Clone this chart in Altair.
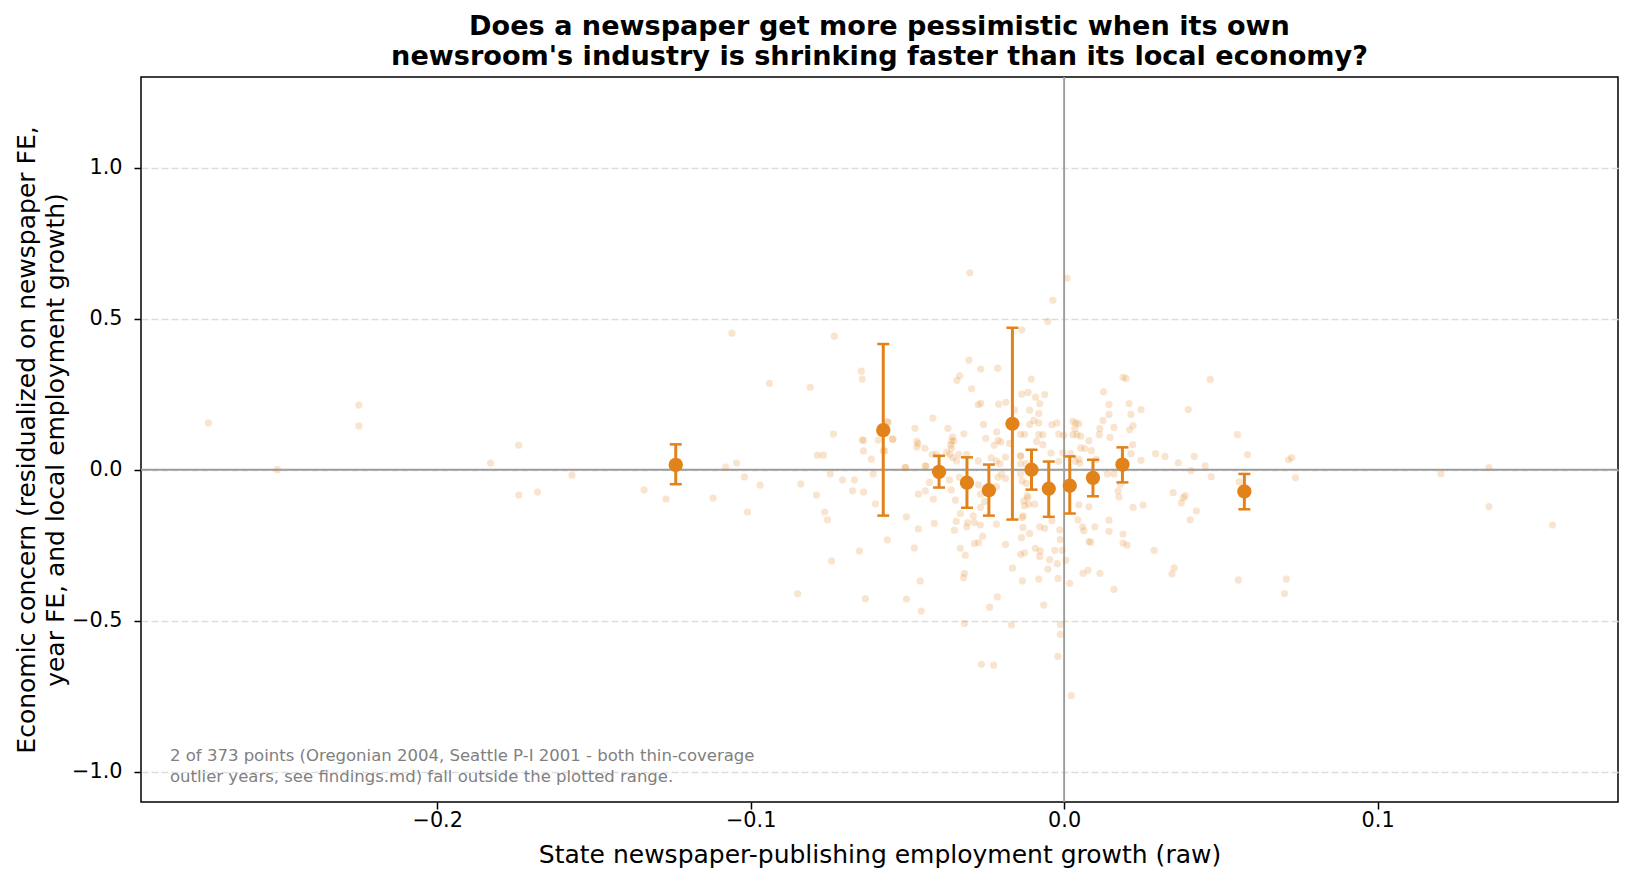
import altair as alt
import pandas as pd

# ---------------- data ----------------
sx = [
    -0.273, -0.225, -0.225, -0.251, -0.183, -0.174, -0.174, -0.168, -0.157,
    -0.134, -0.127, -0.112, -0.108, -0.1045, -0.102, -0.101, -0.106, -0.097, -0.094, -0.084,
    -0.085, -0.081, -0.079, -0.0787, -0.0768, -0.0764, -0.0755, -0.0746, -0.0742, -0.0736,
    -0.0733, -0.0707, -0.0675, -0.0669, -0.0653, -0.0647, -0.0644, -0.0644, -0.0640, -0.064,
    -0.064, -0.0634, -0.0615, -0.0609, -0.0602, -0.0593, -0.0577, -0.0564, -0.0564, -0.0548,
    -0.0301, -0.0135, -0.0304, -0.0266, -0.0212, -0.0333, -0.0342, -0.0295, -0.0105, -0.0115,
    -0.0135, -0.0266, -0.0274, -0.0209, -0.0186, -0.0158, -0.0110, -0.0419, -0.0257, -0.0110,
    -0.0476, -0.0371, -0.0320, -0.0250, -0.0215, -0.0211, -0.0202, -0.0223, -0.0174, -0.0139,
    -0.0126, -0.0356, -0.0359, -0.0352, -0.0362, -0.0359, -0.0470, -0.0466, -0.0470, -0.0444,
    -0.0421, -0.0408, -0.0375, -0.0365, -0.0356, -0.0336, -0.0311, -0.0441, -0.0506, -0.0274,
    -0.0233, -0.0216, -0.0187, -0.0205, -0.0139, -0.0139, -0.0121, -0.0343, -0.0561, -0.0546,
    -0.0572,
    -0.0507, -0.0443, -0.0430, -0.0465, -0.0443, -0.0417, -0.0366, -0.0360, -0.0347, -0.0334,
    -0.0273, -0.0267, -0.0254, -0.0267, -0.0216, -0.0187, -0.0200, -0.0211, -0.0503, -0.0465,
    -0.0414, -0.0478, -0.0459, -0.0503, -0.0456, -0.0331, -0.0344, -0.0350, -0.0308, -0.0286,
    -0.0267, -0.0311, -0.0290, -0.0331, -0.0315, -0.0286, -0.0273, -0.0260, -0.0216, -0.0187,
    -0.0318, -0.0321, -0.0238, -0.0213, -0.0165, -0.0133, -0.0139, -0.0126, -0.0136, -0.0131,
    -0.0131, -0.0126, -0.0116, -0.0318, -0.0168, -0.0264, -0.0225, -0.0139, -0.0139, -0.0121,
    -0.0110,
    0.0009, -0.0036, -0.0052, 0.0188, 0.0197, 0.0126, -0.0091, -0.0062, -0.0078, 0.0143,
    0.0207, 0.0245, -0.0081, 0.0143, 0.0213, 0.0124, 0.0220, 0.0159, 0.0114, 0.0209,
    -0.0097, -0.0081, -0.0039, -0.0023, 0.0028, 0.0037, 0.0047, 0.0034, 0.0028, 0.0041,
    0.0053, 0.0112, 0.0146, -0.0081, -0.0068, -0.0017, -0.0001, -0.0088, -0.0068, 0.0079,
    0.0053, 0.0066, 0.0087, 0.0219, 0.0213, 0.0292, -0.0042, -0.0004, 0.0021, -0.0017,
    0.0036, 0.0050, 0.0245,
    0.0047, 0.0103, 0.0138, 0.0159, 0.0172, 0.0180, 0.0175, 0.0220, 0.0252, -0.0134,
    -0.0118, -0.0129, -0.0113, -0.0094, -0.0134, -0.0078, -0.0062, -0.0092, -0.0076, -0.0078,
    -0.0046, -0.0030, -0.0014, -0.0012, -0.0006, 0.0006, -0.0022, -0.0052, -0.0019, -0.0081,
    0.0018, -0.0039, 0.0044, 0.0047, 0.0059, 0.0063, 0.0098, 0.0079, 0.0079, 0.0085,
    0.0143, 0.0143, 0.0188, 0.0188, 0.0201, 0.0287, 0.0060, 0.0076, 0.0114, 0.0159,
    -0.0065, -0.0012, -0.0012, -0.0020, 0.0023,
    0.0466, 0.0396, 0.0553, 0.0322, 0.0364, 0.0415, 0.0450, 0.0405, 0.0469, 0.0585,
    0.0558, 0.0716, 0.0726, 0.0738, 0.0348, 0.0380, 0.0386, 0.0374, 0.0422, 0.0402,
    0.0351, 0.0344, 0.0556, 0.0709, 0.0703, 0.1202, 0.1355, 0.1355, 0.1558,
]
sy = [
    0.155, 0.214, 0.145, 0.000, 0.022, 0.081, -0.084, -0.074, -0.018,
    -0.067, -0.097, -0.094, 0.009, 0.022, -0.024, -0.140, 0.452, -0.051, 0.286, -0.047,
    -0.411, 0.273, -0.084, 0.048, 0.048, -0.140, -0.166, -0.014, -0.302, 0.118,
    0.442, -0.034, -0.070, -0.034, -0.269, 0.326, 0.300, 0.099, 0.097, 0.062,
    -0.074, -0.427, 0.035, -0.014, -0.113, 0.098, 0.063, 0.159, -0.232, 0.101,
    0.652, 0.463, 0.363, 0.333, 0.336, 0.311, 0.296, 0.268, 0.300, 0.256,
    0.250, 0.220, 0.215, 0.217, 0.223, 0.197, 0.197, 0.171, 0.150, 0.150,
    0.137, 0.137, 0.119, 0.104, 0.125, 0.097, 0.092, 0.081, 0.087, 0.117,
    0.117, 0.108, 0.095, 0.095, 0.082, 0.071, 0.094, 0.086, 0.075, 0.071,
    0.051, 0.051, 0.058, 0.051, 0.040, 0.051, 0.051, 0.012, 0.007, 0.029,
    0.039, 0.029, 0.042, 0.020, 0.045, 0.020, 0.020, 0.029, 0.156, 0.101,
    0.062,
    0.008, 0.013, -0.042, -0.081, -0.070, -0.097, -0.034, -0.067, -0.101, -0.025,
    -0.050, -0.081, -0.106, -0.125, -0.056, -0.029, -0.014, -0.025, -0.156, -0.196,
    -0.178, -0.259, -0.368, -0.428, -0.468, -0.145, -0.171, -0.200, -0.175, -0.175,
    -0.183, -0.189, -0.153, -0.260, -0.283, -0.244, -0.241, -0.220, -0.180, -0.247,
    -0.343, -0.357, -0.455, -0.421, -0.326, -0.368, -0.280, -0.275, -0.225, -0.191,
    -0.153, -0.119, -0.092, -0.509, -0.514, -0.644, -0.647, 0.046, -0.014, -0.045,
    -0.211,
    0.634, 0.561, 0.491, 0.306, 0.302, 0.258, 0.240, 0.249, 0.219, 0.216,
    0.219, 0.199, 0.186, 0.183, 0.183, 0.163, 0.146, 0.140, 0.136, 0.132,
    0.163, 0.155, 0.149, 0.155, 0.160, 0.155, 0.152, 0.136, 0.116, 0.116,
    0.111, 0.116, 0.107, 0.116, 0.116, 0.118, 0.114, 0.094, 0.083, 0.096,
    0.072, 0.070, 0.063, 0.083, 0.053, 0.053, 0.055, 0.056, 0.053, 0.028,
    0.028, 0.022, 0.031,
    0.035, 0.034, -0.014, -0.014, -0.070, -0.048, -0.090, -0.125, -0.117, -0.037,
    -0.086, -0.103, -0.114, -0.114, -0.158, -0.189, -0.194, -0.260, -0.269, -0.287,
    -0.298, -0.267, -0.199, -0.231, -0.267, -0.300, -0.311, -0.329, -0.360, -0.362,
    -0.376, -0.169, -0.166, -0.116, -0.189, -0.202, -0.189, -0.123, -0.238, -0.240,
    -0.167, -0.204, -0.213, -0.243, -0.250, -0.267, -0.343, -0.333, -0.343, -0.396,
    -0.448, -0.512, -0.545, -0.618, -0.748,
    0.299, 0.199, 0.116, 0.044, 0.023, 0.044, 0.013, -0.003, -0.023, 0.050,
    -0.040, 0.033, 0.040, -0.027, -0.076, -0.093, -0.086, -0.110, -0.136, -0.166,
    -0.325, -0.345, -0.365, -0.362, -0.410, -0.013, 0.007, -0.122, -0.183,
]

bin_x = [-0.1239, -0.0577, -0.0399, -0.0310, -0.0240, -0.0165, -0.0104, -0.0049, 0.0018, 0.0092, 0.0186, 0.0575]
bin_mean = [0.016, 0.131, -0.007, -0.043, -0.068, 0.152, 0.000, -0.063, -0.053, -0.027, 0.017, -0.072]
bin_lo = [-0.048, -0.152, -0.059, -0.126, -0.152, -0.165, -0.066, -0.156, -0.145, -0.088, -0.042, -0.131]
bin_hi = [0.084, 0.416, 0.046, 0.041, 0.017, 0.470, 0.066, 0.027, 0.044, 0.033, 0.074, -0.014]

x_ticks = [-0.2, -0.1, 0.0, 0.1]
y_ticks = [-1.0, -0.5, 0.0, 0.5, 1.0]

title_lines = ["Does a newspaper get more pessimistic when its own",
               "newsroom's industry is shrinking faster than its local economy?"]
x_title = "State newspaper-publishing employment growth (raw)"
y_title = ["Economic concern (residualized on newspaper FE,",
           "year FE, and local employment growth)"]
note_lines = ["2 of 373 points (Oregonian 2004, Seattle P-I 2001 - both thin-coverage",
              "outlier years, see findings.md) fall outside the plotted range."]

ORANGE = "#E2821A"
FONT = "DejaVu Sans"

scatter_df = pd.DataFrame({"x": sx, "y": sy})
bins_df = pd.DataFrame({"x": bin_x, "m": bin_mean, "lo": bin_lo, "hi": bin_hi})
one_df = pd.DataFrame({"zero": [0.0]})

xscale = alt.Scale(domain=[-0.2945, 0.1767], nice=False, zero=False)
yscale = alt.Scale(domain=[-1.1, 1.3], nice=False, zero=False)

xenc = alt.X("x:Q", scale=xscale, title=x_title,
             axis=alt.Axis(values=x_ticks, format=".1f", grid=False, titlePadding=13, labelPadding=1))
yenc = alt.Y("y:Q", scale=yscale, title=y_title,
             axis=alt.Axis(values=y_ticks, format=".1f", grid=True, gridDash=[7, 3],
                           gridColor="#dddddd", gridWidth=1.3, titlePadding=3, labelPadding=12))

hzero = alt.Chart(one_df).mark_rule(color="#9c9c9c", strokeWidth=1.9).encode(
    y=alt.Y("zero:Q", scale=yscale))
vzero = alt.Chart(one_df).mark_rule(color="#9c9c9c", strokeWidth=1.9).encode(
    x=alt.X("zero:Q", scale=xscale))

points = alt.Chart(scatter_df).mark_circle(size=52, color=ORANGE, opacity=0.21).encode(x=xenc, y=yenc)

bars = alt.Chart(bins_df).mark_rule(color=ORANGE, strokeWidth=3).encode(
    x=alt.X("x:Q", scale=xscale), y=alt.Y("lo:Q", scale=yscale), y2="hi:Q")
cap_lo = alt.Chart(bins_df).mark_tick(color=ORANGE, orient="horizontal", size=12, thickness=2.5, opacity=1).encode(
    x=alt.X("x:Q", scale=xscale), y=alt.Y("lo:Q", scale=yscale))
cap_hi = alt.Chart(bins_df).mark_tick(color=ORANGE, orient="horizontal", size=12, thickness=2.5, opacity=1).encode(
    x=alt.X("x:Q", scale=xscale), y=alt.Y("hi:Q", scale=yscale))
means = alt.Chart(bins_df).mark_circle(size=205, color=ORANGE, opacity=1).encode(
    x=alt.X("x:Q", scale=xscale), y=alt.Y("m:Q", scale=yscale))

note = alt.Chart(one_df).mark_text(
    text=note_lines, align="left", baseline="top", font=FONT, fontSize=16.5,
    color="#808080", lineHeight=21
).encode(x=alt.value(29), y=alt.value(671))

chart = alt.layer(hzero, vzero, points, bars, cap_lo, cap_hi, means, note).properties(
    width=1477, height=725,
    title=alt.TitleParams(text=title_lines, font=FONT, fontSize=27.1, fontWeight="bold",
                          anchor="middle", lineHeight=29.5, offset=5, color="black"),
    padding={"left": 6, "top": 5, "right": 0, "bottom": 0},
).configure_view(stroke="black", strokeWidth=1.5).configure_axis(
    labelFont=FONT, titleFont=FONT, labelFontSize=20.8, titleFontSize=25,
    titleFontWeight="normal", labelColor="black", titleColor="black",
    tickColor="black", tickWidth=1.5, tickSize=7, domain=False,
    titleLineHeight=29,
)

chart.save("out.html", embed_options={"renderer": "svg", "actions": False})
